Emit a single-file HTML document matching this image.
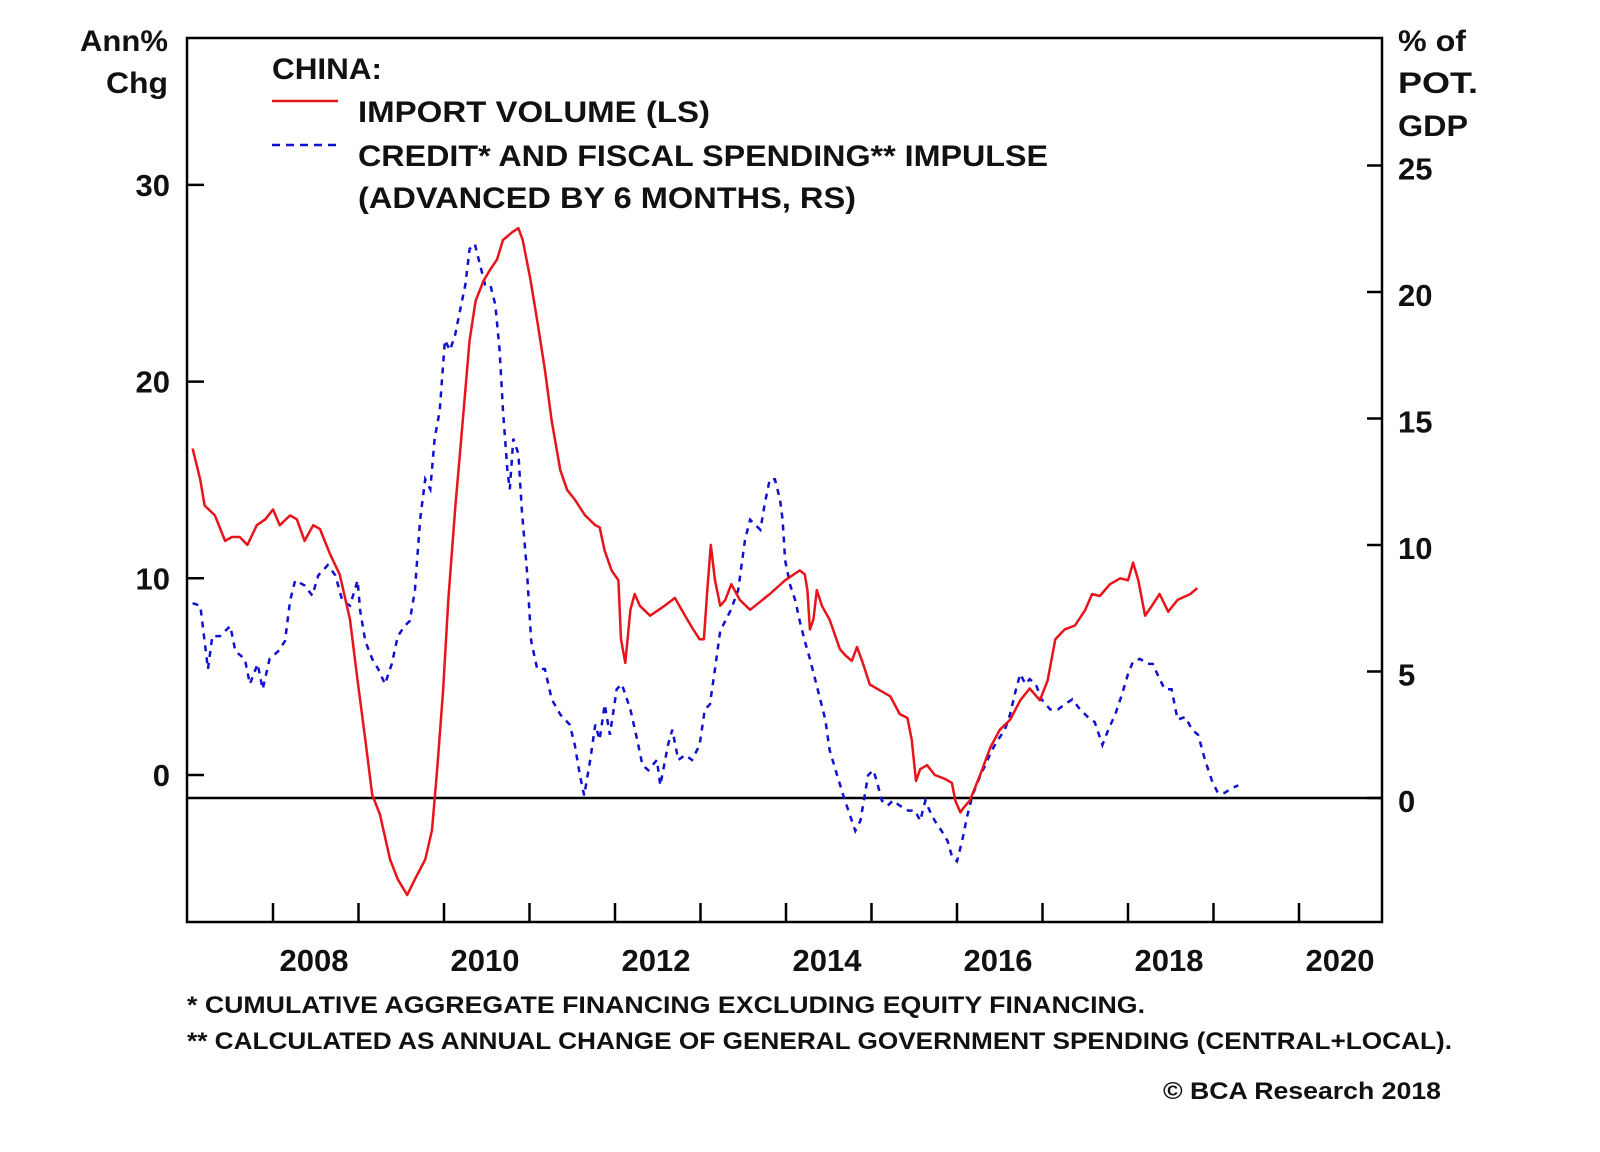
<!DOCTYPE html>
<html>
<head>
<meta charset="utf-8">
<style>
  html, body { margin: 0; padding: 0; background: #fff; }
  svg { display: block; }
  text { font-family: "Liberation Sans", Arial, sans-serif; font-weight: bold; fill: #111; }
</style>
</head>
<body>
<svg id="chart" width="1600" height="1152" viewBox="0 0 1600 1152" xmlns="http://www.w3.org/2000/svg">
  <rect x="0" y="0" width="1600" height="1152" fill="#fff"/>
  <g id="marks"></g>
  <g id="axes"></g>

  <text x="168" y="51" font-size="30" text-anchor="end" textLength="88" lengthAdjust="spacingAndGlyphs">Ann%</text>
  <text x="168" y="93" font-size="30" text-anchor="end" textLength="62" lengthAdjust="spacingAndGlyphs">Chg</text>
  <text x="1398" y="51" font-size="30" textLength="68" lengthAdjust="spacingAndGlyphs">% of</text>
  <text x="1398" y="93" font-size="30" textLength="80" lengthAdjust="spacingAndGlyphs">POT.</text>
  <text x="1398" y="136" font-size="30" textLength="70" lengthAdjust="spacingAndGlyphs">GDP</text>

  <text x="272" y="79" font-size="30" textLength="110" lengthAdjust="spacingAndGlyphs">CHINA:</text>
  <line x1="272" y1="101" x2="338" y2="101" stroke="#e8141b" stroke-width="2.5"/>
  <text x="358" y="122" font-size="30" textLength="352" lengthAdjust="spacingAndGlyphs">IMPORT VOLUME (LS)</text>
  <line x1="272" y1="145" x2="338" y2="145" stroke="#1010d0" stroke-width="2.5" stroke-dasharray="8,6"/>
  <text x="358" y="166" font-size="30" textLength="690" lengthAdjust="spacingAndGlyphs">CREDIT* AND FISCAL SPENDING** IMPULSE</text>
  <text x="358" y="208" font-size="30" textLength="498" lengthAdjust="spacingAndGlyphs">(ADVANCED BY 6 MONTHS, RS)</text>

  <text x="187" y="1013" font-size="24" textLength="958" lengthAdjust="spacingAndGlyphs">*  CUMULATIVE AGGREGATE FINANCING EXCLUDING EQUITY FINANCING.</text>
  <text x="187" y="1049" font-size="24" textLength="1265" lengthAdjust="spacingAndGlyphs">** CALCULATED AS ANNUAL CHANGE OF GENERAL GOVERNMENT SPENDING (CENTRAL+LOCAL).</text>
  <text x="1163" y="1099" font-size="24" textLength="278" lengthAdjust="spacingAndGlyphs">© BCA Research 2018</text>
</svg>
<script>
const importYears = [2007.06,2007.15,2007.20,2007.32,2007.44,2007.52,2007.61,2007.70,2007.81,2007.91,2008.00,2008.08,2008.20,2008.28,2008.37,2008.47,2008.55,2008.67,2008.78,2008.90,2008.99,2009.08,2009.16,2009.25,2009.37,2009.46,2009.57,2009.66,2009.78,2009.86,2009.92,2009.99,2010.05,2010.13,2010.19,2010.25,2010.30,2010.37,2010.46,2010.54,2010.62,2010.69,2010.80,2010.87,2010.92,2011.01,2011.09,2011.18,2011.26,2011.36,2011.44,2011.53,2011.65,2011.77,2011.82,2011.88,2011.96,2012.04,2012.07,2012.12,2012.18,2012.23,2012.29,2012.41,2012.58,2012.70,2012.82,2012.90,2012.99,2013.04,2013.08,2013.12,2013.17,2013.23,2013.29,2013.36,2013.46,2013.58,2013.81,2013.99,2014.16,2014.22,2014.25,2014.28,2014.32,2014.36,2014.42,2014.51,2014.63,2014.69,2014.77,2014.83,2014.89,2014.98,2015.10,2015.22,2015.33,2015.42,2015.47,2015.52,2015.57,2015.65,2015.74,2015.86,2015.94,2015.98,2016.04,2016.07,2016.15,2016.27,2016.39,2016.50,2016.62,2016.74,2016.85,2016.97,2017.06,2017.15,2017.26,2017.38,2017.50,2017.58,2017.67,2017.79,2017.91,2018.00,2018.06,2018.12,2018.20,2018.28,2018.37,2018.47,2018.58,2018.73,2018.81];
const importValues = [16.6,15.0,13.7,13.2,11.9,12.1,12.1,11.7,12.7,13.0,13.5,12.7,13.2,13.0,11.9,12.7,12.5,11.2,10.2,7.9,4.8,1.8,-1.0,-2.0,-4.3,-5.3,-6.1,-5.3,-4.3,-2.8,0.3,4.3,8.9,13.5,16.5,19.6,22.1,24.1,25.1,25.7,26.2,27.2,27.6,27.8,27.2,25.2,23.1,20.6,18.0,15.5,14.5,14.0,13.2,12.7,12.6,11.4,10.4,9.9,6.9,5.7,8.4,9.2,8.6,8.1,8.6,9.0,8.1,7.5,6.9,6.9,9.4,11.7,9.9,8.6,8.9,9.7,8.9,8.4,9.2,9.9,10.4,10.2,9.4,7.4,7.9,9.4,8.6,7.9,6.4,6.1,5.8,6.5,5.8,4.6,4.3,4.0,3.1,2.9,1.8,-0.3,0.3,0.5,0.0,-0.2,-0.4,-1.3,-1.9,-1.7,-1.3,0.0,1.4,2.3,2.8,3.8,4.4,3.8,4.8,6.9,7.4,7.6,8.4,9.2,9.1,9.7,10.0,9.9,10.8,9.9,8.1,8.6,9.2,8.3,8.9,9.2,9.5];
const creditYears = [2007.06,2007.15,2007.20,2007.24,2007.29,2007.38,2007.50,2007.56,2007.67,2007.73,2007.82,2007.88,2007.96,2008.06,2008.14,2008.20,2008.26,2008.37,2008.46,2008.53,2008.64,2008.73,2008.81,2008.90,2008.99,2009.02,2009.08,2009.16,2009.23,2009.31,2009.39,2009.46,2009.54,2009.60,2009.66,2009.72,2009.78,2009.84,2009.89,2009.95,2010.01,2010.07,2010.13,2010.19,2010.25,2010.30,2010.36,2010.42,2010.48,2010.54,2010.60,2010.65,2010.69,2010.74,2010.77,2010.81,2010.87,2010.91,2010.97,2011.02,2011.09,2011.18,2011.26,2011.36,2011.47,2011.53,2011.59,2011.64,2011.71,2011.77,2011.82,2011.88,2011.94,2012.02,2012.08,2012.18,2012.26,2012.32,2012.39,2012.49,2012.53,2012.62,2012.67,2012.74,2012.82,2012.90,2012.99,2013.05,2013.11,2013.17,2013.23,2013.29,2013.35,2013.44,2013.52,2013.58,2013.64,2013.70,2013.75,2013.81,2013.87,2013.93,2013.96,2013.99,2014.05,2014.11,2014.16,2014.22,2014.28,2014.34,2014.40,2014.46,2014.51,2014.58,2014.67,2014.75,2014.81,2014.87,2014.96,2015.02,2015.06,2015.12,2015.19,2015.25,2015.33,2015.43,2015.51,2015.57,2015.63,2015.68,2015.74,2015.82,2015.89,2015.94,2016.00,2016.06,2016.12,2016.18,2016.25,2016.33,2016.41,2016.48,2016.56,2016.62,2016.69,2016.74,2016.80,2016.85,2016.92,2016.99,2017.09,2017.18,2017.26,2017.35,2017.44,2017.53,2017.61,2017.70,2017.77,2017.85,2017.93,2018.00,2018.06,2018.14,2018.23,2018.29,2018.37,2018.43,2018.51,2018.58,2018.67,2018.75,2018.82,2018.90,2018.98,2019.05,2019.13,2019.22,2019.29];
const creditValues = [7.7,7.6,6.2,5.1,6.4,6.4,6.8,5.8,5.5,4.5,5.3,4.3,5.5,5.8,6.2,7.8,8.6,8.4,8.0,8.8,9.2,8.8,7.8,7.6,8.6,7.4,6.2,5.5,5.1,4.5,5.3,6.4,6.8,7.0,8.2,11.0,12.6,12.2,14.2,15.3,18.1,17.7,18.3,19.3,20.3,21.7,21.9,21.1,20.3,20.3,19.5,17.7,15.3,13.0,12.2,14.2,13.6,11.4,9.0,6.2,5.1,5.1,3.9,3.3,2.9,2.1,0.9,0.1,1.5,2.9,2.3,3.7,2.5,4.3,4.5,3.5,2.3,1.3,1.1,1.5,0.5,2.1,2.7,1.5,1.7,1.5,2.1,3.5,3.7,5.1,6.6,7.0,7.4,8.2,10.2,11.0,10.8,10.6,11.6,12.6,12.6,11.8,11.0,9.4,8.4,7.8,7.0,6.2,5.5,4.7,3.9,3.1,1.9,1.1,0.1,-0.7,-1.3,-0.9,0.9,1.1,0.7,-0.1,-0.3,-0.1,-0.3,-0.5,-0.5,-0.9,-0.1,-0.5,-0.9,-1.3,-1.7,-2.3,-2.5,-1.7,-0.7,0.1,0.7,1.3,1.9,2.3,2.7,3.3,4.3,4.9,4.5,4.7,4.5,3.9,3.5,3.5,3.7,3.9,3.5,3.2,3.0,2.1,2.7,3.3,4.1,4.9,5.4,5.5,5.3,5.3,4.7,4.3,4.3,3.1,3.2,2.7,2.5,1.5,0.7,0.2,0.2,0.4,0.5];
const leftTicks = [0, 10, 20, 30];
const rightTicks = [0, 5, 10, 15, 20, 25];
const yearLabels = ["2008", "2010", "2012", "2014", "2016", "2018", "2020"];

const NS = "http://www.w3.org/2000/svg";
const PL = 187, PR = 1382, PT = 38, PB = 922;
function xScale(t) { return 273 + (t - 2008) * 85.5; }
function yLeft(v) { return 775 - v * 19.67; }
function yRight(v) { return 798 - v * 25.3; }
function mk(tag, attrs, parent) {
  const e = document.createElementNS(NS, tag);
  for (const k in attrs) e.setAttribute(k, attrs[k]);
  parent.appendChild(e);
  return e;
}
const marks = document.getElementById('marks');
const axes = document.getElementById('axes');

const zl = mk('line', {x1: PL, x2: PR, y1: yRight(0), y2: yRight(0), stroke: '#000', 'stroke-width': 2.5}, marks);



let d = '';
creditYears.forEach((t, i) => { d += (i ? 'L' : 'M') + xScale(t).toFixed(1) + ',' + yRight(creditValues[i]).toFixed(1); });
const cl = mk('path', {d: d, fill: 'none', stroke: '#1010d0', 'stroke-width': 2.5, 'stroke-dasharray': '6,6'}, marks);



d = '';
importYears.forEach((t, i) => { d += (i ? 'L' : 'M') + xScale(t).toFixed(1) + ',' + yLeft(importValues[i]).toFixed(1); });
const il = mk('path', {d: d, fill: 'none', stroke: '#e8141b', 'stroke-width': 2.5, 'stroke-linejoin': 'round'}, marks);



const fr = mk('rect', {x: PL, y: PT, width: PR - PL, height: PB - PT, fill: 'none', stroke: '#000', 'stroke-width': 2.5}, axes);



leftTicks.forEach(v => {
  const y = yLeft(v);
  const tk = mk('line', {x1: PL, x2: PL + 17, y1: y, y2: y, stroke: '#000', 'stroke-width': 2.5}, axes);
  
  
  const tx = mk('text', {x: 170, y: y + 11, 'font-size': 31, 'text-anchor': 'end'}, axes);
  tx.textContent = String(v);
  
  
});
rightTicks.forEach(v => {
  const y = yRight(v);
  const tk = mk('line', {x1: PR - 15, x2: PR, y1: y, y2: y, stroke: '#000', 'stroke-width': 2.5}, axes);
  
  
  const tx = mk('text', {x: 1398, y: y + 14, 'font-size': 31}, axes);
  tx.textContent = String(v);
  
  
});
for (let yr = 2008; yr <= 2020; yr++) {
  const x = xScale(yr);
  const tk = mk('line', {x1: x, x2: x, y1: PB - 19, y2: PB, stroke: '#000', 'stroke-width': 2.5}, axes);
  
  
}
yearLabels.forEach(lbl => {
  const x = xScale(+lbl + 0.48);
  const tx = mk('text', {x: x, y: 971, 'font-size': 31, 'text-anchor': 'middle'}, axes);
  tx.textContent = lbl;
  
  
});
</script>
</body>
</html>
